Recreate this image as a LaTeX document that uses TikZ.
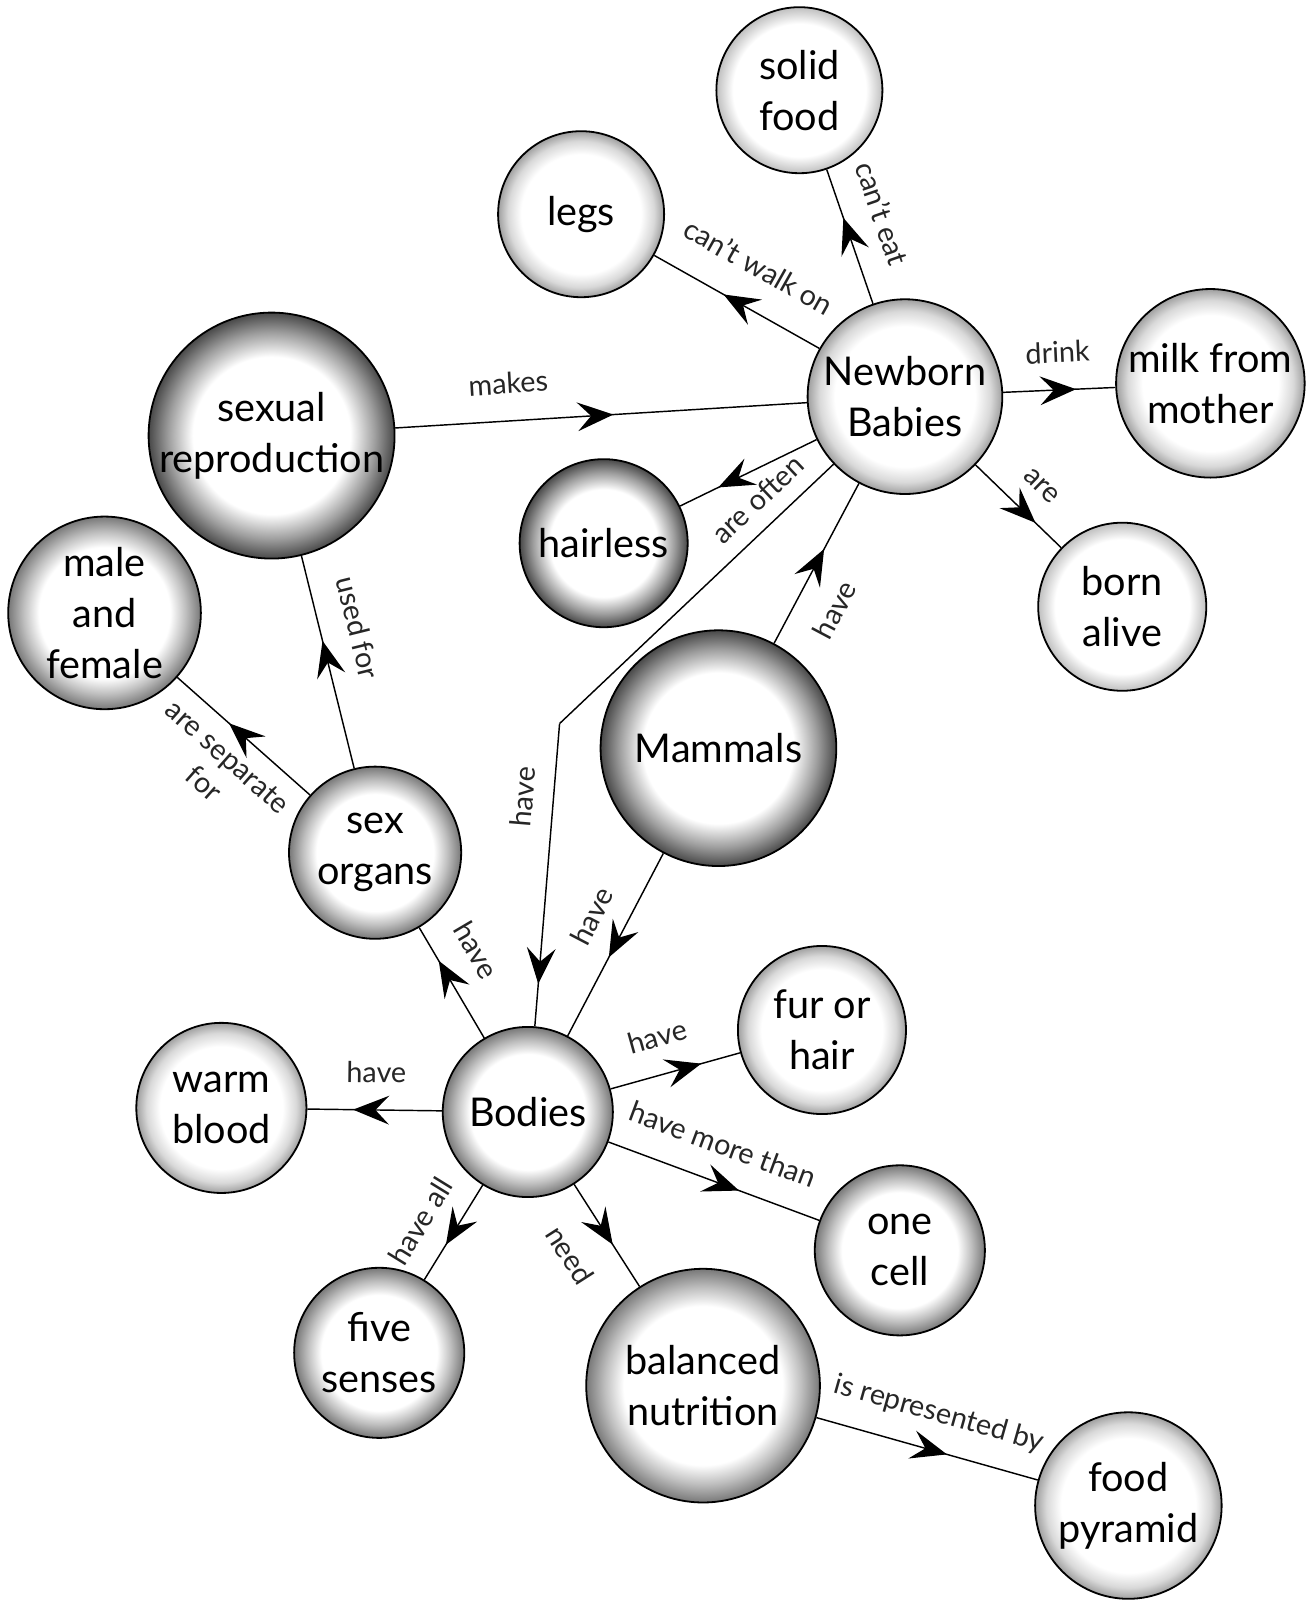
\documentclass[tikz,border=0pt]{standalone}
\usepackage{fontspec}
\setmainfont{Lato}
\usepackage{tikz}
\usetikzlibrary{arrows.meta, decorations.markings}
\pgfdeclareradialshading{rimfaint}{\pgfpoint{0bp}{0bp}}{color(0bp)=(white); color(20bp)=(white); color(26bp)=(black!30); color(50bp)=(black!30)}
\pgfdeclareradialshading{rimlight}{\pgfpoint{0bp}{0bp}}{color(0bp)=(white); color(18bp)=(white); color(22bp)=(black!15); color(26bp)=(black!45); color(50bp)=(black!45)}
\pgfdeclareradialshading{rimmid}{\pgfpoint{0bp}{0bp}}{color(0bp)=(white); color(17bp)=(white); color(21bp)=(black!25); color(26bp)=(black!60); color(50bp)=(black!60)}
\pgfdeclareradialshading{rimdark}{\pgfpoint{0bp}{0bp}}{color(0bp)=(white); color(16bp)=(white); color(21bp)=(black!38); color(26bp)=(black!80); color(50bp)=(black!80)}
\tikzset{
	concept/.style ={circle, draw=black, line width=0.5pt, inner sep=0pt, align=center, font=\fontsize{11}{14.2}\selectfont},
	lbl/.style     ={font=\fontsize{8}{10}\selectfont, text=black!85},
	conn/.style    ={line width=0.4pt},
	midarrow/.style={postaction={decorate}, decoration={markings, mark=at position #1 with {\arrow{Stealth[length=10pt, width=8pt, inset=3.8pt]}}}},
}
\begin{document}
\begin{tikzpicture}[x=0.1mm, y=-0.1mm]
\useasboundingbox (0,0) rectangle (1281,1568);
% concepts
\node[concept, minimum size=16.2mm, shading=rimfaint] (solid) at (780,88) {solid\\food};
\node[concept, minimum size=16.2mm, shading=rimlight] (legs) at (567,209) {legs};
\node[concept, minimum size=19mm, shading=rimlight] (nb) at (883,387) {Newborn\\Babies};
\node[concept, minimum size=18.4mm, shading=rimlight] (milk) at (1181,374) {milk from\\mother};
\node[concept, minimum size=24mm, shading=rimdark] (sexrep) at (265,425) {sexual\\reproduction};
\node[concept, minimum size=16.4mm, shading=rimdark] (hairless) at (589,530) {hairless};
\node[concept, minimum size=18.8mm, shading=rimmid] (male) at (102,598) {male\\and\\female};
\node[concept, minimum size=16.4mm, shading=rimfaint] (born) at (1095,592) {born\\alive};
\node[concept, minimum size=23mm, shading=rimdark] (mammals) at (701,730) {Mammals};
\node[concept, minimum size=16.8mm, shading=rimmid] (sexorg) at (366,832) {sex\\organs};
\node[concept, minimum size=16.4mm, shading=rimlight] (fur) at (802,1005) {fur or\\hair};
\node[concept, minimum size=16.6mm, shading=rimlight] (warm) at (216,1081) {warm\\blood};
\node[concept, minimum size=16.6mm, shading=rimmid] (bodies) at (515,1085) {Bodies};
\node[concept, minimum size=16.6mm, shading=rimmid] (onecell) at (878,1220) {one\\cell};
\node[concept, minimum size=16.6mm, shading=rimmid] (five) at (370,1320) {five\\senses};
\node[concept, minimum size=22.8mm, shading=rimmid] (balanced) at (686,1352) {balanced\\nutrition};
\node[concept, minimum size=18.2mm, shading=rimlight] (pyramid) at (1101,1469) {food\\pyramid};
\coordinate (bend) at (546,706);
% links
\draw[conn, midarrow=0.64] (nb) -- node[lbl, pos=0.58, above=4pt, sloped] {can't eat} (solid);
\draw[conn, midarrow=0.58] (nb) -- node[lbl, pos=0.49, above=5pt, sloped] {can't walk on} (legs);
\draw[conn, midarrow=0.65] (nb) -- node[lbl, pos=0.5, above=4pt, sloped] {drink} (milk);
\draw[conn, midarrow=0.7] (nb) -- node[lbl, pos=0.52, above=3pt, sloped] {are} (born);
\draw[conn, midarrow=0.72] (nb) -- (hairless);
\draw[conn] (nb) -- node[lbl, pos=0.21, above=1pt, sloped] {are often} (bend);
\draw[conn, midarrow=0.86] (bend) -- node[lbl, pos=0.25, above=2pt, sloped] {have} (bodies);
\draw[conn, midarrow=0.59] (mammals) -- node[lbl, pos=0.32, below=4pt, sloped] {have} (nb);
\draw[conn, midarrow=0.53] (sexrep) -- node[lbl, pos=0.28, above=4pt, sloped] {makes} (nb);
\draw[conn, midarrow=0.6] (sexorg) -- node[lbl, pos=0.62, above=4pt, sloped] {used for} (sexrep);
\draw[conn, midarrow=0.61] (sexorg) -- node[lbl, pos=0.49, below=1pt, sloped, align=center] {are separate\\for} (male);
\draw[conn, midarrow=0.7] (bodies) -- node[lbl, pos=0.62, above=4pt, sloped] {have} (sexorg);
\draw[conn, midarrow=0.57] (mammals) -- node[lbl, pos=0.43, above=3pt, sloped] {have} (bodies);
\draw[conn, midarrow=0.7] (bodies) -- node[lbl, pos=0.44, above=4pt, sloped] {have} (fur);
\draw[conn, midarrow=0.66] (bodies) -- node[lbl, pos=0.49, above=4pt, sloped] {have} (warm);
\draw[conn, midarrow=0.62] (bodies) -- node[lbl, pos=0.48, above=4pt, sloped] {have more than} (onecell);
\draw[conn, midarrow=0.63] (bodies) -- node[lbl, pos=0.57, above=3pt, sloped] {have all} (five);
\draw[conn, midarrow=0.59] (bodies) -- node[lbl, pos=0.47, below=5pt, sloped] {need} (balanced);
\draw[conn, midarrow=0.59] (balanced) -- node[lbl, pos=0.51, above=3pt, sloped] {is represented by} (pyramid);
\end{tikzpicture}
\end{document}
